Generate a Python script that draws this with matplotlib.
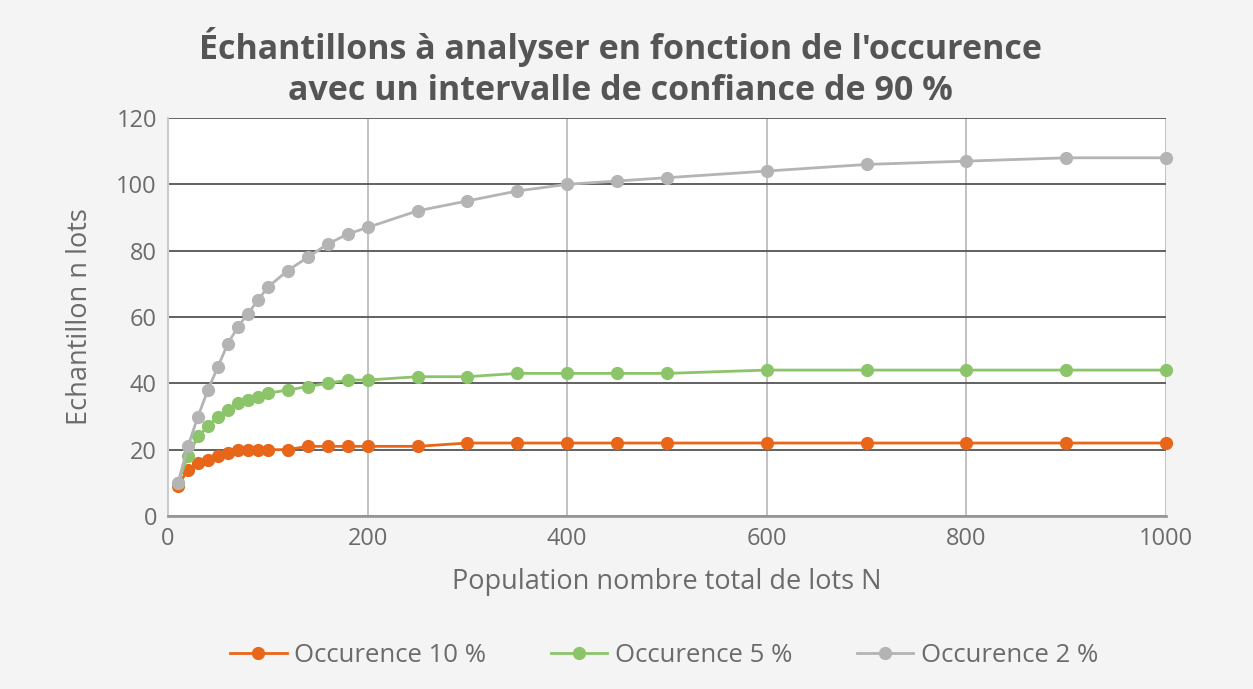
import matplotlib.pyplot as plt

# Data
population = [10, 20, 30, 40, 50, 60, 70, 80, 90, 100, 120, 140, 160, 180, 200,
              250, 300, 350, 400, 450, 500, 600, 700, 800, 900, 1000]
occ10 = [9, 14, 16, 17, 18, 19, 20, 20, 20, 20, 20, 21, 21, 21, 21,
         21, 22, 22, 22, 22, 22, 22, 22, 22, 22, 22]
occ5 = [10, 18, 24, 27, 30, 32, 34, 35, 36, 37, 38, 39, 40, 41, 41,
        42, 42, 43, 43, 43, 43, 44, 44, 44, 44, 44]
occ2 = [10, 21, 30, 38, 45, 52, 57, 61, 65, 69, 74, 78, 82, 85, 87,
        92, 95, 98, 100, 101, 102, 104, 106, 107, 108, 108]
labels = ['Occurence 10 %', 'Occurence 5 %', 'Occurence 2 %']
colors = ['#e8661a', '#8cc46a', '#b4b4b4']

plt.rcParams['font.family'] = ['Open Sans', 'DejaVu Sans']
txtColor = '#6b6b6b'

fig = plt.figure(figsize=(12.53, 6.89), dpi=100, facecolor='#f4f4f4')
ax = fig.add_axes([168 / 1253, 1 - 516 / 689, (1166 - 168) / 1253, (516 - 118) / 689])
ax.set_facecolor('white')

for series, lab, col in zip([occ10, occ5, occ2], labels, colors):
    ax.plot(population, series, color=col, lw=2, marker='o', markersize=8.5,
            label=lab, clip_on=False, zorder=3)

ax.set_xlim(0, 1000)
ax.set_ylim(0, 120)
ax.set_xticks(range(0, 1001, 200))
ax.set_yticks(range(0, 121, 20))
ax.grid(axis='y', color='#555555', lw=1.3)
ax.grid(axis='x', color='#bdbdbd', lw=1.3)
ax.set_axisbelow(True)
for side in ['top', 'right']:
    ax.spines[side].set_visible(False)
ax.spines['left'].set_color('#cccccc')
ax.spines['left'].set_linewidth(1.5)
ax.spines['bottom'].set_color('#999999')
ax.spines['bottom'].set_linewidth(2)
ax.tick_params(length=0, labelsize=17, colors=txtColor, pad=8)

ax.set_xlabel('Population nombre total de lots N', fontsize=19.5, color=txtColor, labelpad=12)
ax.set_ylabel('Echantillon n lots', fontsize=19.5, color=txtColor, labelpad=16)

fig.text(0.495, 0.902, "Échantillons à analyser en fonction de l'occurence\navec un intervalle de confiance de 90 %",
         ha='center', va='center', fontsize=24.5, fontweight='bold', color='#555555', linespacing=1.3)

fig.legend(loc='center', bbox_to_anchor=(0.53, 1 - 655 / 689), ncol=3, frameon=False,
           fontsize=18.5, labelcolor=txtColor, handlelength=2.2, handletextpad=0.3,
           columnspacing=2.5)

plt.savefig('out.png', dpi=100, facecolor=fig.get_facecolor())
